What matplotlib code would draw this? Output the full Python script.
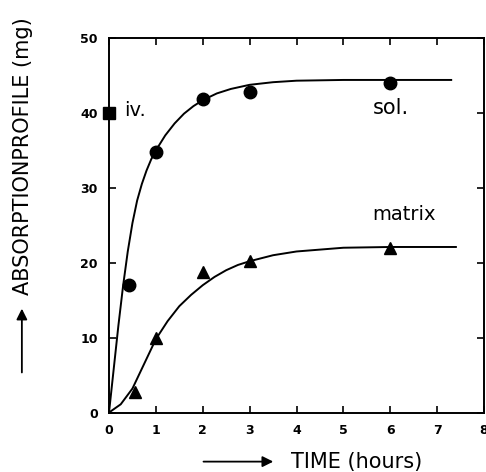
import matplotlib
matplotlib.use('Agg')
import matplotlib.pyplot as plt
from matplotlib.patches import FancyArrowPatch

# measured points
t_sol = [0.42, 1, 2, 3, 6]
y_sol = [17, 34.8, 41.9, 42.8, 44]
t_iv = [0]
y_iv = [40]
t_mat = [0.55, 1, 2, 3, 6]
y_mat = [2.8, 10, 18.8, 20.2, 22]

# fitted curves
t_sol_curve = [0, 0.1, 0.2, 0.3, 0.4, 0.5, 0.6, 0.7, 0.8, 0.9, 1.0, 1.2, 1.4,
               1.6, 1.8, 2.0, 2.3, 2.6, 3.0, 3.5, 4.0, 5.0, 6.0, 7.3]
sol_curve = [0, 5.8, 11.6, 16.9, 21.5, 25.3, 28.3, 30.5, 32.3, 33.8, 35.0, 37.0,
             38.6, 39.9, 40.9, 41.7, 42.6, 43.2, 43.75, 44.1, 44.3, 44.4, 44.4, 44.4]
t_mat_curve = [0, 0.25, 0.5, 0.75, 1.0, 1.25, 1.5, 1.75, 2.0, 2.25, 2.5, 2.75,
               3.0, 3.5, 4.0, 5.0, 6.0, 7.4]
mat_curve = [0, 1.1, 3.2, 6.5, 9.8, 12.2, 14.2, 15.7, 17.0, 18.1, 19.0, 19.7,
             20.2, 21.0, 21.5, 22.0, 22.1, 22.1]

xticks = [0, 1, 2, 3, 4, 5, 6, 7, 8]
yticks = [0, 10, 20, 30, 40, 50]

fig = plt.figure(figsize=(4.86, 4.72), dpi=100)
ax = fig.add_axes([0.2243, 0.126, 0.7716, 0.7935])

ax.plot(t_sol_curve, sol_curve, color='black', lw=1.4)
ax.plot(t_mat_curve, mat_curve, color='black', lw=1.4)
ax.plot(t_sol, y_sol, 'o', color='black', ms=9, clip_on=False)
ax.plot(t_mat, y_mat, '^', color='black', ms=9, clip_on=False)
ax.plot(t_iv, y_iv, 's', color='black', ms=9, clip_on=False)

ax.set_xlim(0, 8)
ax.set_ylim(0, 50)
ax.set_xticks(xticks)
ax.set_yticks(yticks)
ax.tick_params(direction='in', top=True, right=True, length=5, width=1.2,
               labelsize=9, pad=8)
for lab in ax.get_xticklabels() + ax.get_yticklabels():
    lab.set_fontweight('bold')
for s in ax.spines.values():
    s.set_linewidth(1.4)

ax.text(0.33, 40.3, 'iv.', fontsize=14, va='center')
ax.text(5.62, 40.6, 'sol.', fontsize=15, va='center')
ax.text(5.62, 26.5, 'matrix', fontsize=14, va='center')

# axis labels with arrows
fig.text(0.047, 0.375, 'ABSORPTIONPROFILE (mg)', rotation=90, fontsize=15,
         ha='center', va='bottom')
fig.add_artist(FancyArrowPatch(
    (0.045, 0.205), (0.045, 0.352), transform=fig.transFigure,
    arrowstyle='-|>', mutation_scale=16, lw=1.3, color='black'))
fig.text(0.598, 0.022, 'TIME (hours)', fontsize=15, ha='left', va='center')
fig.add_artist(FancyArrowPatch(
    (0.413, 0.022), (0.568, 0.022), transform=fig.transFigure,
    arrowstyle='-|>', mutation_scale=16, lw=1.3, color='black'))

fig.savefig('out.png', dpi=100)
